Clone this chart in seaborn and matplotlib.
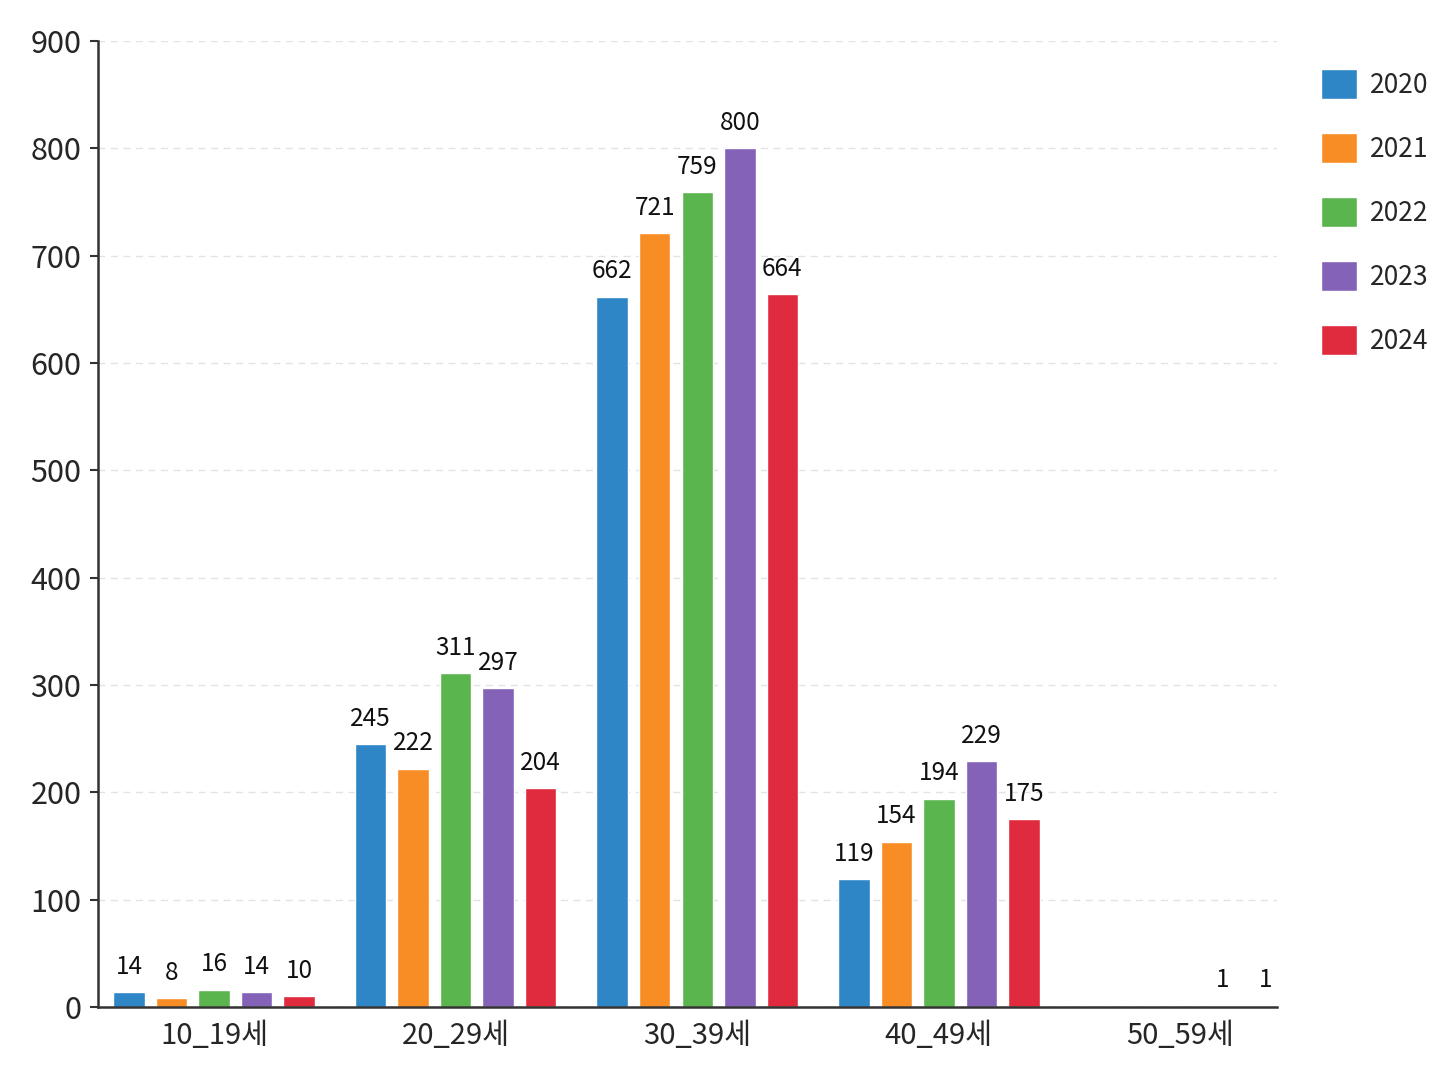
import numpy as np
import pandas as pd
import seaborn as sns
import matplotlib
matplotlib.use('Agg')
import matplotlib.pyplot as plt
from matplotlib.patches import Patch

# data
ages = ['10_19세', '20_29세', '30_39세', '40_49세', '50_59세']
years = ['2020', '2021', '2022', '2023', '2024']
v2020 = [14, 245, 662, 119, np.nan]
v2021 = [8, 222, 721, 154, np.nan]
v2022 = [16, 311, 759, 194, np.nan]
v2023 = [14, 297, 800, 229, 1]
v2024 = [10, 204, 664, 175, 1]
colors = ['#2E86C6', '#F98D25', '#5BB54E', '#8462B8', '#DF2B3D']

df = pd.DataFrame({'age': ages, '2020': v2020, '2021': v2021, '2022': v2022,
                   '2023': v2023, '2024': v2024})
df_long = df.melt(id_vars='age', var_name='year', value_name='count').dropna()

sns.set_style('white')
plt.rcParams['font.family'] = ['Noto Sans CJK KR', 'DejaVu Sans']

fig = plt.figure(figsize=(14.48, 10.86), dpi=100)
ax = fig.add_axes([0.0677, 0.0727, 0.8143, 0.8895])

sns.barplot(data=df_long, x='age', y='count', hue='year', order=ages,
            hue_order=years, palette=colors, width=0.88, gap=0.26,
            saturation=1, legend=False, ax=ax)

for cont in ax.containers:
    ax.bar_label(cont, fmt='%d', padding=9, fontsize=17.5, color='#111111')

ax.set_ylim(0, 900)
ax.set_xlim(-0.48, 4.40)
ax.set_yticks(range(0, 901, 100))
ax.set_xlabel('')
ax.set_ylabel('')
ax.tick_params(axis='y', labelsize=22, length=6, width=1.5, color='#333333',
               left=True, pad=6)
ax.tick_params(axis='x', labelsize=21, length=0, pad=10)
ax.yaxis.grid(True, linestyle=(0, (5, 4)), color='#e3e3e3', linewidth=1)
ax.set_axisbelow(True)
sns.despine(ax=ax)
for s in ['left', 'bottom']:
    ax.spines[s].set_color('#333333')
    ax.spines[s].set_linewidth(1.8)

handles = [Patch(facecolor=c, label=y) for c, y in zip(colors, years)]
fig.legend(handles=handles, loc='upper left', bbox_to_anchor=(0.896, 0.958),
           frameon=False, fontsize=19, handlelength=1.35, handleheight=1.35,
           labelspacing=1.3, handletextpad=0.5)

fig.savefig('out.png', dpi=100)
